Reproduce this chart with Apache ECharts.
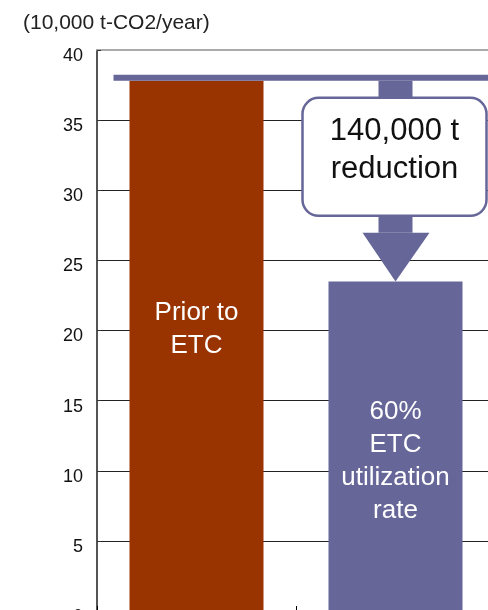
<!DOCTYPE html>
<html>
<head>
<meta charset="utf-8">
<script src="https://cdn.jsdelivr.net/npm/echarts/dist/echarts.min.js"></script>
<style>
  html, body { margin: 0; padding: 0; background: #fff; }
  #chart { width: 488px; height: 610px; }
</style>
</head>
<body>
<div id="chart"></div>
<script>
// chart data
var categories = ['Prior to ETC', '60% ETC utilization rate'];
var emissions = [37.8, 23.5];
var barLabels = ['Prior to\nETC', '60%\nETC\nutilization\nrate'];
var barColors = ['#993300', '#666699'];
var yTicks = [0, 5, 10, 15, 20, 25, 30, 35, 40];
var unitText = '(10,000 t-CO2/year)';
var reductionText = '140,000 t\nreduction';

var FONT = 'Liberation Sans, Arial, sans-serif';
var ARROW = '#666699';

var chart = echarts.init(document.getElementById('chart'));

var option = {
  animation: false,
  textStyle: { fontFamily: FONT },
  title: {
    text: unitText,
    left: 18, top: 8,
    textStyle: { fontFamily: FONT, fontSize: 21, fontWeight: 'normal', color: '#222' }
  },
  // plot runs past the bottom and right edges, like the original
  grid: { left: 97, top: 50, width: 398, height: 561, outerBoundsMode: 'none', containLabel: false },
  xAxis: [
    {
      type: 'category',
      data: categories,
      axisLine: { show: false },
      axisTick: { show: true, inside: true, length: 5, lineStyle: { color: '#000' } },
      axisLabel: { show: false }
    },
    {
      // top border of the plot
      type: 'category',
      position: 'top',
      data: categories,
      axisLine: { show: true, lineStyle: { color: '#aaa', width: 2 } },
      axisTick: { show: false },
      axisLabel: { show: false }
    }
  ],
  yAxis: {
    type: 'value',
    min: yTicks[0],
    max: yTicks[yTicks.length - 1],
    interval: 5,
    axisLine: { show: true, lineStyle: { color: '#555', width: 2 } },
    axisTick: { show: true, inside: true, length: 4, lineStyle: { color: '#333' } },
    axisLabel: {
      fontSize: 18, color: '#111', margin: 14, fontFamily: FONT,
      verticalAlign: 'top', lineHeight: 12
    },
    splitLine: { show: true, lineStyle: { color: '#222', width: 1 } }
  },
  series: [
    {
      type: 'bar',
      barWidth: 134,
      data: emissions.map(function(v, i) {
        return {
          value: v,
          itemStyle: { color: barColors[i] },
          label: {
            show: true,
            position: 'inside',
            offset: i === 0 ? [0, -17] : [0, 15],
            formatter: barLabels[i],
            color: '#fff',
            fontSize: 26,
            lineHeight: 33,
            fontFamily: FONT
          }
        };
      })
    }
  ]
};
chart.setOption(option);

// reduction arrow, placed from the bar values
var top1 = chart.convertToPixel({ yAxisIndex: 0 }, emissions[0]);
var top2 = chart.convertToPixel({ yAxisIndex: 0 }, emissions[1]);
var cx1 = chart.convertToPixel({ xAxisIndex: 0 }, categories[0]);
var cx2 = chart.convertToPixel({ xAxisIndex: 0 }, categories[1]);

chart.setOption({
  graphic: [
    {
      type: 'rect', z: 100,
      shape: { x: cx1 - 83, y: top1 - 6, width: 500, height: 6 },
      style: { fill: ARROW }
    },
    {
      type: 'rect', z: 100,
      shape: { x: cx2 - 17, y: top1, width: 34, height: 152 },
      style: { fill: ARROW }
    },
    {
      type: 'polygon', z: 100,
      shape: { points: [[cx2 - 33, top1 + 152], [cx2 + 34, top1 + 152], [cx2, top2]] },
      style: { fill: ARROW }
    },
    {
      type: 'rect', z: 101,
      shape: { x: cx2 - 93, y: top1 + 17, width: 184, height: 118, r: 16 },
      style: { fill: '#fff', stroke: ARROW, lineWidth: 2.5 }
    },
    {
      type: 'text', z: 102,
      x: cx2 - 1, y: top1 + 70,
      style: {
        text: reductionText,
        font: '31px ' + FONT,
        lineHeight: 38,
        fill: '#111',
        textAlign: 'center',
        textVerticalAlign: 'middle'
      }
    }
  ]
});
</script>
</body>
</html>
